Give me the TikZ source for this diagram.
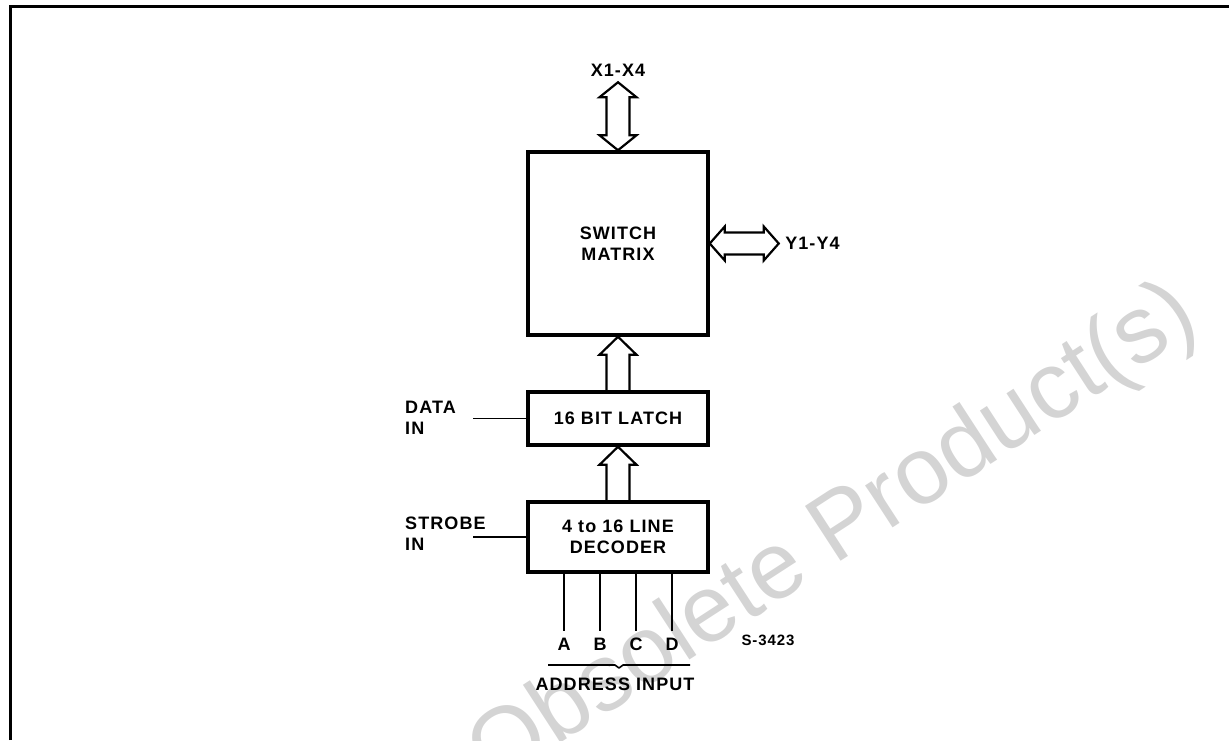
\documentclass[tikz,border=0pt]{standalone}
\usepackage{fontspec}
\usetikzlibrary{positioning,calc}
\setmainfont{Liberation Sans}
\newfontfamily\diafont{Liberation Sans}[LetterSpace=6]

\begin{document}
\begin{tikzpicture}[x=1pt,y=-1pt,node distance=53.5pt,
 every node/.style={font=\diafont\bfseries\fontsize{18}{21}\selectfont},
 blk/.style={draw,line width=3.5pt,minimum width=180pt,align=center,inner sep=0pt},
 bus/.style={draw,line width=2.2pt,line join=miter},
 wire/.style={draw,line width=1.6pt},
 lbl/.style={align=left,anchor=west,inner sep=0pt}]
\useasboundingbox (0,0) rectangle (1229,740);
\node[rotate=33,anchor=base,text=black!17,font=\fontsize{95}{95}\selectfont] (wm) at (848,557) {Obsolete Product(s)};
\draw[line width=3pt] (10,740) -- (10,6) -- (1229,6);
\node[blk,minimum height=183pt] (sw) at (618,243.5) {SWITCH\\MATRIX};
\node[blk,minimum height=53pt,below=of sw] (latch) {16 BIT LATCH};
\node[blk,minimum height=70pt,below=of latch] (dec) {4 to 16 LINE\\DECODER};
\coordinate (xtip) at ([yshift=68pt]sw.north);
\coordinate (ytip) at ([xshift=69pt]sw.east);
\draw[bus] (xtip) -- ++(18.5,15) -- ++(-7,0) -- ($(sw.north)+(11.5,-15)$) -- ++(7,0) -- (sw.north)
 -- ++(-18.5,-15) -- ++(7,0) -- ($(xtip)+(-11.5,15)$) -- ++(-7,0) -- cycle;
\draw[bus] (sw.east) -- ++(15,-17) -- ++(0,6) -- ($(ytip)+(-15,-11)$) -- ++(0,-6) -- (ytip)
 -- ++(-15,17) -- ++(0,-6) -- ($(sw.east)+(15,11)$) -- ++(0,6) -- cycle;
\node[above=2pt of xtip] (xlbl) {X1-X4};
\node[right=3pt of ytip] (ylbl) {Y1-Y4};
\draw[bus] ($(latch.north)+(-11.5,0)$) -- ($(sw.south)+(-11.5,18)$) -- ++(-7,0) -- (sw.south)
 -- ++(18.5,18) -- ++(-7,0) -- ($(latch.north)+(11.5,0)$);
\draw[bus] ($(dec.north)+(-11.5,0)$) -- ($(latch.south)+(-11.5,18)$) -- ++(-7,0) -- (latch.south)
 -- ++(18.5,18) -- ++(-7,0) -- ($(dec.north)+(11.5,0)$);
\node[lbl] (datain) at (405,418) {DATA\\IN};
\node[lbl] (strobe) at (405,534) {STROBE\\IN};
\coordinate (dend) at ([xshift=-53pt]latch.west);
\coordinate (send) at ([xshift=-53pt]dec.west);
\draw[wire] (dend) -- (latch.west);
\draw[wire] (send) -- (dec.west);
\foreach \n [count=\i] in {A,B,C,D} {
 \node (\n) at (528+36*\i,644) {\n};
 \draw[wire] (dec.south -| \n) -- ([yshift=3pt]\n.north);
}
\coordinate (bl) at (548,665);
\coordinate (br) at (690,665);
\coordinate (bm) at ($(bl)!0.5!(br)$);
\draw[wire,line join=round] (bl) -- ($(bm)+(-4,0)$) -- ($(bm)+(0,3)$) -- ($(bm)+(4,0)$) -- (br);
\node (addr) at (615,684) {ADDRESS INPUT};
\node[font=\diafont\bfseries\fontsize{15}{17}\selectfont] (fig) at (768,640) {S-3423};
\end{tikzpicture}
\end{document}
